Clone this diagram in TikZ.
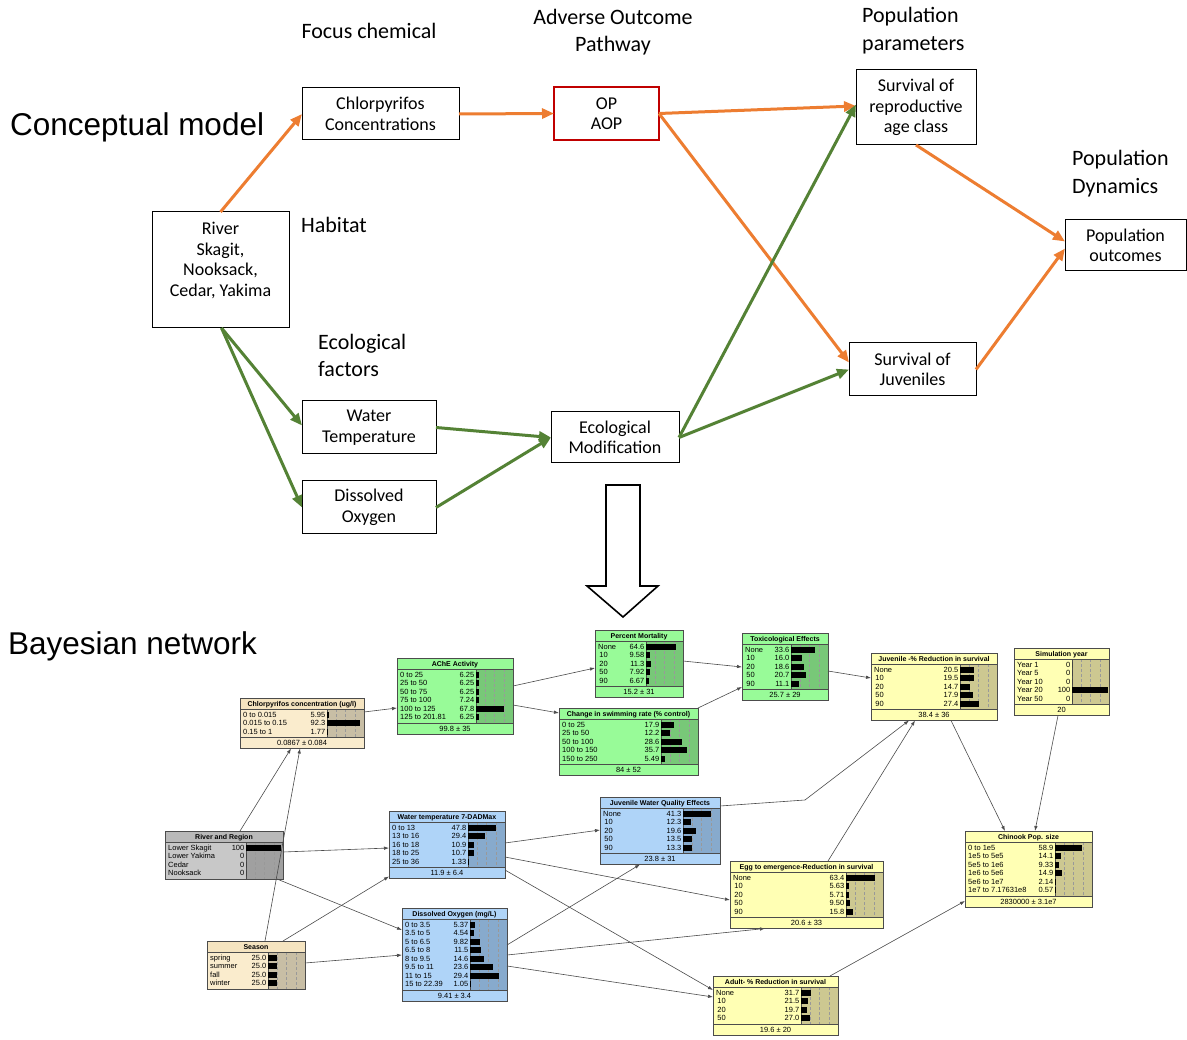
\documentclass[tikz,border=0pt]{standalone}
\usepackage{fontspec}
\setmainfont{Carlito}
\newfontfamily\arialf{Liberation Sans}
\usetikzlibrary{arrows.meta,calc}

\definecolor{orangeC}{RGB}{237,125,49}
\definecolor{greenC}{RGB}{84,130,53}
\definecolor{redC}{RGB}{192,0,0}
\definecolor{tanbody}{RGB}{250,236,205}
\definecolor{tantitle}{RGB}{245,228,192}
\definecolor{tanbar}{RGB}{200,190,165}
\definecolor{greenbody}{RGB}{152,251,152}
\definecolor{greentitle}{RGB}{152,251,152}
\definecolor{greenbar}{RGB}{120,200,120}
\definecolor{bluebody}{RGB}{175,212,248}
\definecolor{bluetitle}{RGB}{175,212,248}
\definecolor{bluebar}{RGB}{135,170,205}
\definecolor{yellowbody}{RGB}{255,255,180}
\definecolor{yellowtitle}{RGB}{255,255,180}
\definecolor{yellowbar}{RGB}{205,200,145}
\definecolor{greybody}{RGB}{200,200,200}
\definecolor{greytitle}{RGB}{185,185,185}
\definecolor{greybar}{RGB}{160,160,160}

\def\bnrow{8.5}
% #1 name, #2 x, #3 y, #4 width, #5 title, #6 rows, #7 footer, #8 bar scale, #9 colour set
\newcommand{\bnnet}[9]{%
  \foreach \bnA [count=\bnn] in {#6} {\xdef\bnN{\bnn}}%
  \def\bnfoot{#7}%
  \ifx\bnfoot\empty\def\bnF{0}\else\def\bnF{11}\fi
  \pgfmathsetmacro\bnH{14+\bnN*\bnrow+\bnF}%
  \pgfmathsetmacro\bnBx{#2+#4-37}%
  \pgfmathsetmacro\bnBb{#3+14+\bnN*\bnrow}%
  \node[bnframe, fill=#9body, minimum width=#4pt, minimum height=\bnH pt, anchor=north west] (#1) at (#2,#3) {};
  \fill[#9title] (#2,#3) rectangle (#2+#4,#3+11);
  \fill[#9bar] (\bnBx,#3+11) rectangle (#2+#4,\bnBb);
  \draw[bnline] (\bnBx,#3+11) -- (\bnBx,\bnBb);
  \foreach \q in {0.25,0.5,0.75} {\draw[bngrid] (\bnBx+37*\q,#3+11) -- (\bnBx+37*\q,\bnBb);}
  \draw[bnline] (#2,#3+11) -- (#2+#4,#3+11);
  \ifx\bnfoot\empty\else
    \draw[bnline] (#2,\bnBb) -- (#2+#4,\bnBb);
    \node[bntext] at (#2+#4/2,\bnBb+5.5) {#7};
  \fi
  \node[bntitle] at (#2+#4/2,#3+5.5) {#5};
  \foreach \lab/\val [count=\i] in {#6} {
    \pgfmathsetmacro\yy{#3+12.5+(\i-0.5)*\bnrow}
    \node[bntext, anchor=west] at (#2+3,\yy) {\lab};
    \node[bntext, anchor=east] at (\bnBx-1.5,\yy) {\val};
    \fill (\bnBx,\yy-2.8) rectangle (\bnBx+\val*#8,\yy+2.8);
  }
  \draw[bnline] (#1.north west) rectangle (#1.south east);
}

\begin{document}
\begin{tikzpicture}[x=1pt,y=-1pt,
  cbox/.style={draw=black, line width=1pt, fill=white, inner sep=0, outer sep=0, align=center, font=\fontsize{18}{20.5}\selectfont},
  ctext/.style={align=center, inner sep=0, font=\fontsize{18}{20.5}\selectfont},
  clabel/.style={inner sep=0, font=\fontsize{22}{27.5}\selectfont},
  bigl/.style={inner sep=0, anchor=west, font=\arialf\fontsize{31.5}{36}\selectfont},
  oarr/.style={draw=orangeC, line width=3pt, -{Triangle[length=12pt,width=10pt]}},
  garr/.style={draw=greenC, line width=3pt, -{Triangle[length=12pt,width=10pt]}},
  bnframe/.style={inner sep=0, outer sep=0},
  bnline/.style={draw=black!70, line width=0.6pt},
  bngrid/.style={draw=black!40, line width=0.4pt, densely dashed},
  bntext/.style={inner sep=0, text height=5.3pt, text depth=0pt, font=\arialf\fontsize{7.5}{8}\selectfont},
  bntitle/.style={inner sep=0, text height=5pt, text depth=0pt, font=\arialf\bfseries\fontsize{7}{8}\selectfont},
  bnarr/.style={draw=black!70, line width=0.6pt, -{Latex[length=5pt,width=3.5pt]}},
]
\fill[white] (0,0) rectangle (1187,1040);
\useasboundingbox (0,0) rectangle (1187,1040);

% ---------------- Conceptual model ----------------
\node[bigl] (tcm) at (10,127) {Conceptual model};
\node[clabel] (tfc) at (369,31) {Focus chemical};
\node[clabel, align=center] (taop) at (613,32) {Adverse Outcome\\Pathway};
\node[clabel, align=left, anchor=west] (tpp) at (862,30.5) {Population\\parameters};
\node[clabel, align=left, anchor=west] (tpd) at (1072,173.5) {Population\\Dynamics};
\node[clabel, anchor=west] (thab) at (301,225) {Habitat};
\node[clabel, align=left, anchor=west] (tef) at (318,355.5) {Ecological\\factors};

\node[cbox, minimum width=157pt, minimum height=52pt] (cchl) at (380.5,114) {Chlorpyrifos\\Concentrations};
\node[cbox, draw=redC, line width=1.8pt, minimum width=105pt, minimum height=53pt] (op) at (606.5,113.5) {OP\\AOP};
\node[cbox, minimum width=120pt, minimum height=75pt] (surv) at (916,107.5) {Survival of\\reproductive\\age class};
\node[cbox, minimum width=121pt, minimum height=51pt] (pop) at (1125.5,245.5) {Population\\outcomes};
\node[cbox, minimum width=137pt, minimum height=116pt, anchor=north west] (river) at (152,212) {};
\node[ctext] (rivertext) at (220.5,260.5) {River\\Skagit,\\Nooksack,\\Cedar, Yakima};
\node[cbox, minimum width=127pt, minimum height=53pt] (juvs) at (912.5,369.5) {Survival of\\Juveniles};
\node[cbox, minimum width=134pt, minimum height=53pt] (wtemp) at (369,427.5) {Water\\Temperature};
\node[cbox, minimum width=134pt, minimum height=53pt] (dox) at (369,507.5) {Dissolved\\Oxygen};
\node[cbox, minimum width=128pt, minimum height=51pt] (eco) at (615,437.5) {Ecological\\Modification};

\draw[oarr] (river.north) -- (cchl.west);
\draw[oarr] (cchl.east) -- (op.west);
\draw[oarr] (op.east) -- ([yshift=1.5pt]surv.west);
\draw[oarr] (op.east) -- ([yshift=7pt]juvs.west);
\draw[oarr] (surv.south) -- ([yshift=4pt]pop.west);
\draw[oarr] (juvs.east) -- ([yshift=-3pt]pop.west);

\draw[garr] ([xshift=1pt]river.south) -- ([yshift=2pt]wtemp.west);
\draw[garr] ([xshift=1pt]river.south) -- (dox.west);
\draw[garr] (wtemp.east) -- (eco.west);
\draw[garr] (dox.east) -- (eco.west);
\draw[garr] (eco.east) -- ([yshift=3pt]surv.west);
\draw[garr] (eco.east) -- (juvs.west);

% big hollow arrow
\draw[line width=1.6pt, fill=white, line join=miter] (606,485) -- (640,485) -- (640,586) -- (658,586) -- (623,617) -- (587,586) -- (606,586) -- cycle;

% ---------------- Bayesian network ----------------
\node[bigl] (tbn) at (8,646) {Bayesian network};

\bnnet{chl}{240}{698}{124}{Chlorpyrifos concentration (ug/l)}{0 to 0.015/5.95, 0.015 to 0.15/92.3, 0.15 to 1/1.77}{0.0867 ± 0.084}{0.36}{tan}
\bnnet{ache}{397}{658}{116}{AChE Activity}{0 to 25/6.25, 25 to 50/6.25, 50 to 75/6.25, 75 to 100/7.24, 100 to 125/67.8, 125 to 201.81/6.25}{99.8 ± 35}{0.41}{green}
\bnnet{pm}{595}{630}{88}{Percent Mortality}{None/64.6, \,10/9.58, \,20/11.3, \,50/7.92, \,90/6.67}{15.2 ± 31}{0.46}{green}
\bnnet{tox}{742}{633}{86}{Toxicological Effects}{None/33.6, \,10/16.0, \,20/18.6, \,50/20.7, \,90/11.1}{25.7 ± 29}{0.71}{green}
\bnnet{swim}{559}{708}{139}{Change in swimming rate (\% control)}{0 to 25/17.9, 25 to 50/12.2, 50 to 100/28.6, 100 to 150/35.7, 150 to 250/5.49}{84 ± 52}{0.73}{green}
\bnnet{juv}{871}{653}{126}{Juvenile -\% Reduction in survival}{None/20.5, \,10/19.5, \,20/14.7, \,50/17.9, \,90/27.4}{38.4 ± 36}{0.70}{yellow}
\bnnet{sim}{1014}{648}{95}{Simulation year}{Year 1/0, Year 5/0, Year 10/0, Year 20/100, Year 50/0}{20}{0.36}{yellow}
\bnnet{riv}{165}{831}{118}{River and Region}{Lower Skagit/100, Lower Yakima/0, Cedar/0, Nooksack/0}{}{0.35}{grey}
\bnnet{wt}{389}{811}{116}{Water temperature 7-DADMax}{0 to 13/47.8, 13 to 16/29.4, 16 to 18/10.9, 18 to 25/10.7, 25 to 36/1.33}{11.9 ± 6.4}{0.58}{blue}
\bnnet{jwq}{600}{797}{120}{Juvenile Water Quality Effects}{None/41.3, \,10/12.3, \,20/19.6, \,50/13.5, \,90/13.3}{23.8 ± 31}{0.68}{blue}
\bnnet{chin}{965}{831}{127}{Chinook Pop. size}{0 to 1e5/58.9, 1e5 to 5e5/14.1, 5e5 to 1e6/9.33, 1e6 to 5e6/14.9, 5e6 to 1e7/2.14, 1e7 to 7.17631e8/0.57}{2830000 ± 3.1e7}{0.46}{yellow}
\bnnet{egg}{730}{861}{153}{Egg to emergence-Reduction in survival}{None/63.4, \,10/5.63, \,20/5.71, \,50/9.50, \,90/15.8}{20.6 ± 33}{0.45}{yellow}
\bnnet{sea}{207}{941}{98}{Season}{spring/25.0, summer/25.0, fall/25.0, winter/25.0}{}{0.36}{tan}
\bnnet{do}{402}{908}{105}{Dissolved Oxygen (mg/L)}{0 to 3.5/5.37, 3.5 to 5/4.54, 5 to 6.5/9.82, 6.5 to 8/11.5, 8 to 9.5/14.6, 9.5 to 11/23.6, 11 to 15/29.4, 15 to 22.39/1.05}{9.41 ± 3.4}{0.97}{blue}
\bnnet{adult}{713}{976}{125}{Adult- \% Reduction in survival}{None/31.7, \,10/21.5, \,20/19.7, \,50/27.0}{19.6 ± 20}{0.32}{yellow}

\coordinate (k1) at (805,800);
\draw[bnarr] ([yshift=-14pt]chl.north east) -- ([yshift=-50pt]ache.north west);
\draw[bnarr] ([yshift=-28pt]ache.north east) -- ([yshift=-38pt]pm.north west);
\draw[bnarr] ([yshift=-47pt]ache.north east) -- ([yshift=-5pt]swim.north west);
\draw[bnarr] ([yshift=-31pt]pm.north east) -- ([yshift=-34pt]tox.north west);
\draw[bnarr] (swim.north east) -- ([yshift=-54pt]tox.north west);
\draw[bnarr] ([yshift=-38pt]tox.north east) -- ([yshift=-25pt]juv.north west);
\draw[bnarr] ([xshift=80pt]juv.south west) -- ([xshift=40pt]chin.north west);
\draw[bnarr] ([xshift=44pt]sim.south west) -- ([xshift=70pt]chin.north west);
\draw[bnarr] ([xshift=75pt]riv.north west) -- ([xshift=51pt]chl.south west);
\draw[bnarr] ([yshift=-21pt]riv.north east) -- ([yshift=-37pt]wt.north west);
\draw[bnarr] ([xshift=-6pt]riv.south east) -- ([yshift=-22pt]do.north west);
\draw[bnarr] ([xshift=58pt]sea.north west) -- ([xshift=60pt]chl.south west);
\draw[bnarr] ([xshift=76pt]sea.north west) -- ([yshift=2pt]wt.south west);
\draw[bnarr] ([yshift=-22pt]sea.north east) -- ([yshift=-47pt]do.north west);
\draw[bnarr] ([yshift=-32pt]wt.north east) -- ([yshift=-33pt]jwq.north west);
\draw[bnarr] ([yshift=-46pt]wt.north east) -- ([yshift=-39pt]egg.north west);
\draw[bnarr] ([yshift=-59pt]wt.north east) -- ([yshift=-14pt]adult.north west);
\draw[bnarr] ([yshift=-37pt]do.north east) -- ([xshift=40pt]jwq.south west);
\draw[bnarr] ([yshift=-47pt]do.north east) -- ([xshift=35pt]egg.south west);
\draw[bnarr] ([yshift=-58pt]do.north east) -- ([yshift=-21pt]adult.north west);
\draw[bnarr] ([yshift=-9pt]jwq.north east) -- (k1) -- ([xshift=38pt]juv.south west);
\draw[bnarr] ([xshift=98pt]egg.north west) -- ([xshift=44pt]juv.south west);
\draw[bnarr] ([xshift=-8pt]adult.north east) -- ([yshift=6pt]chin.south west);
\end{tikzpicture}
\end{document}
